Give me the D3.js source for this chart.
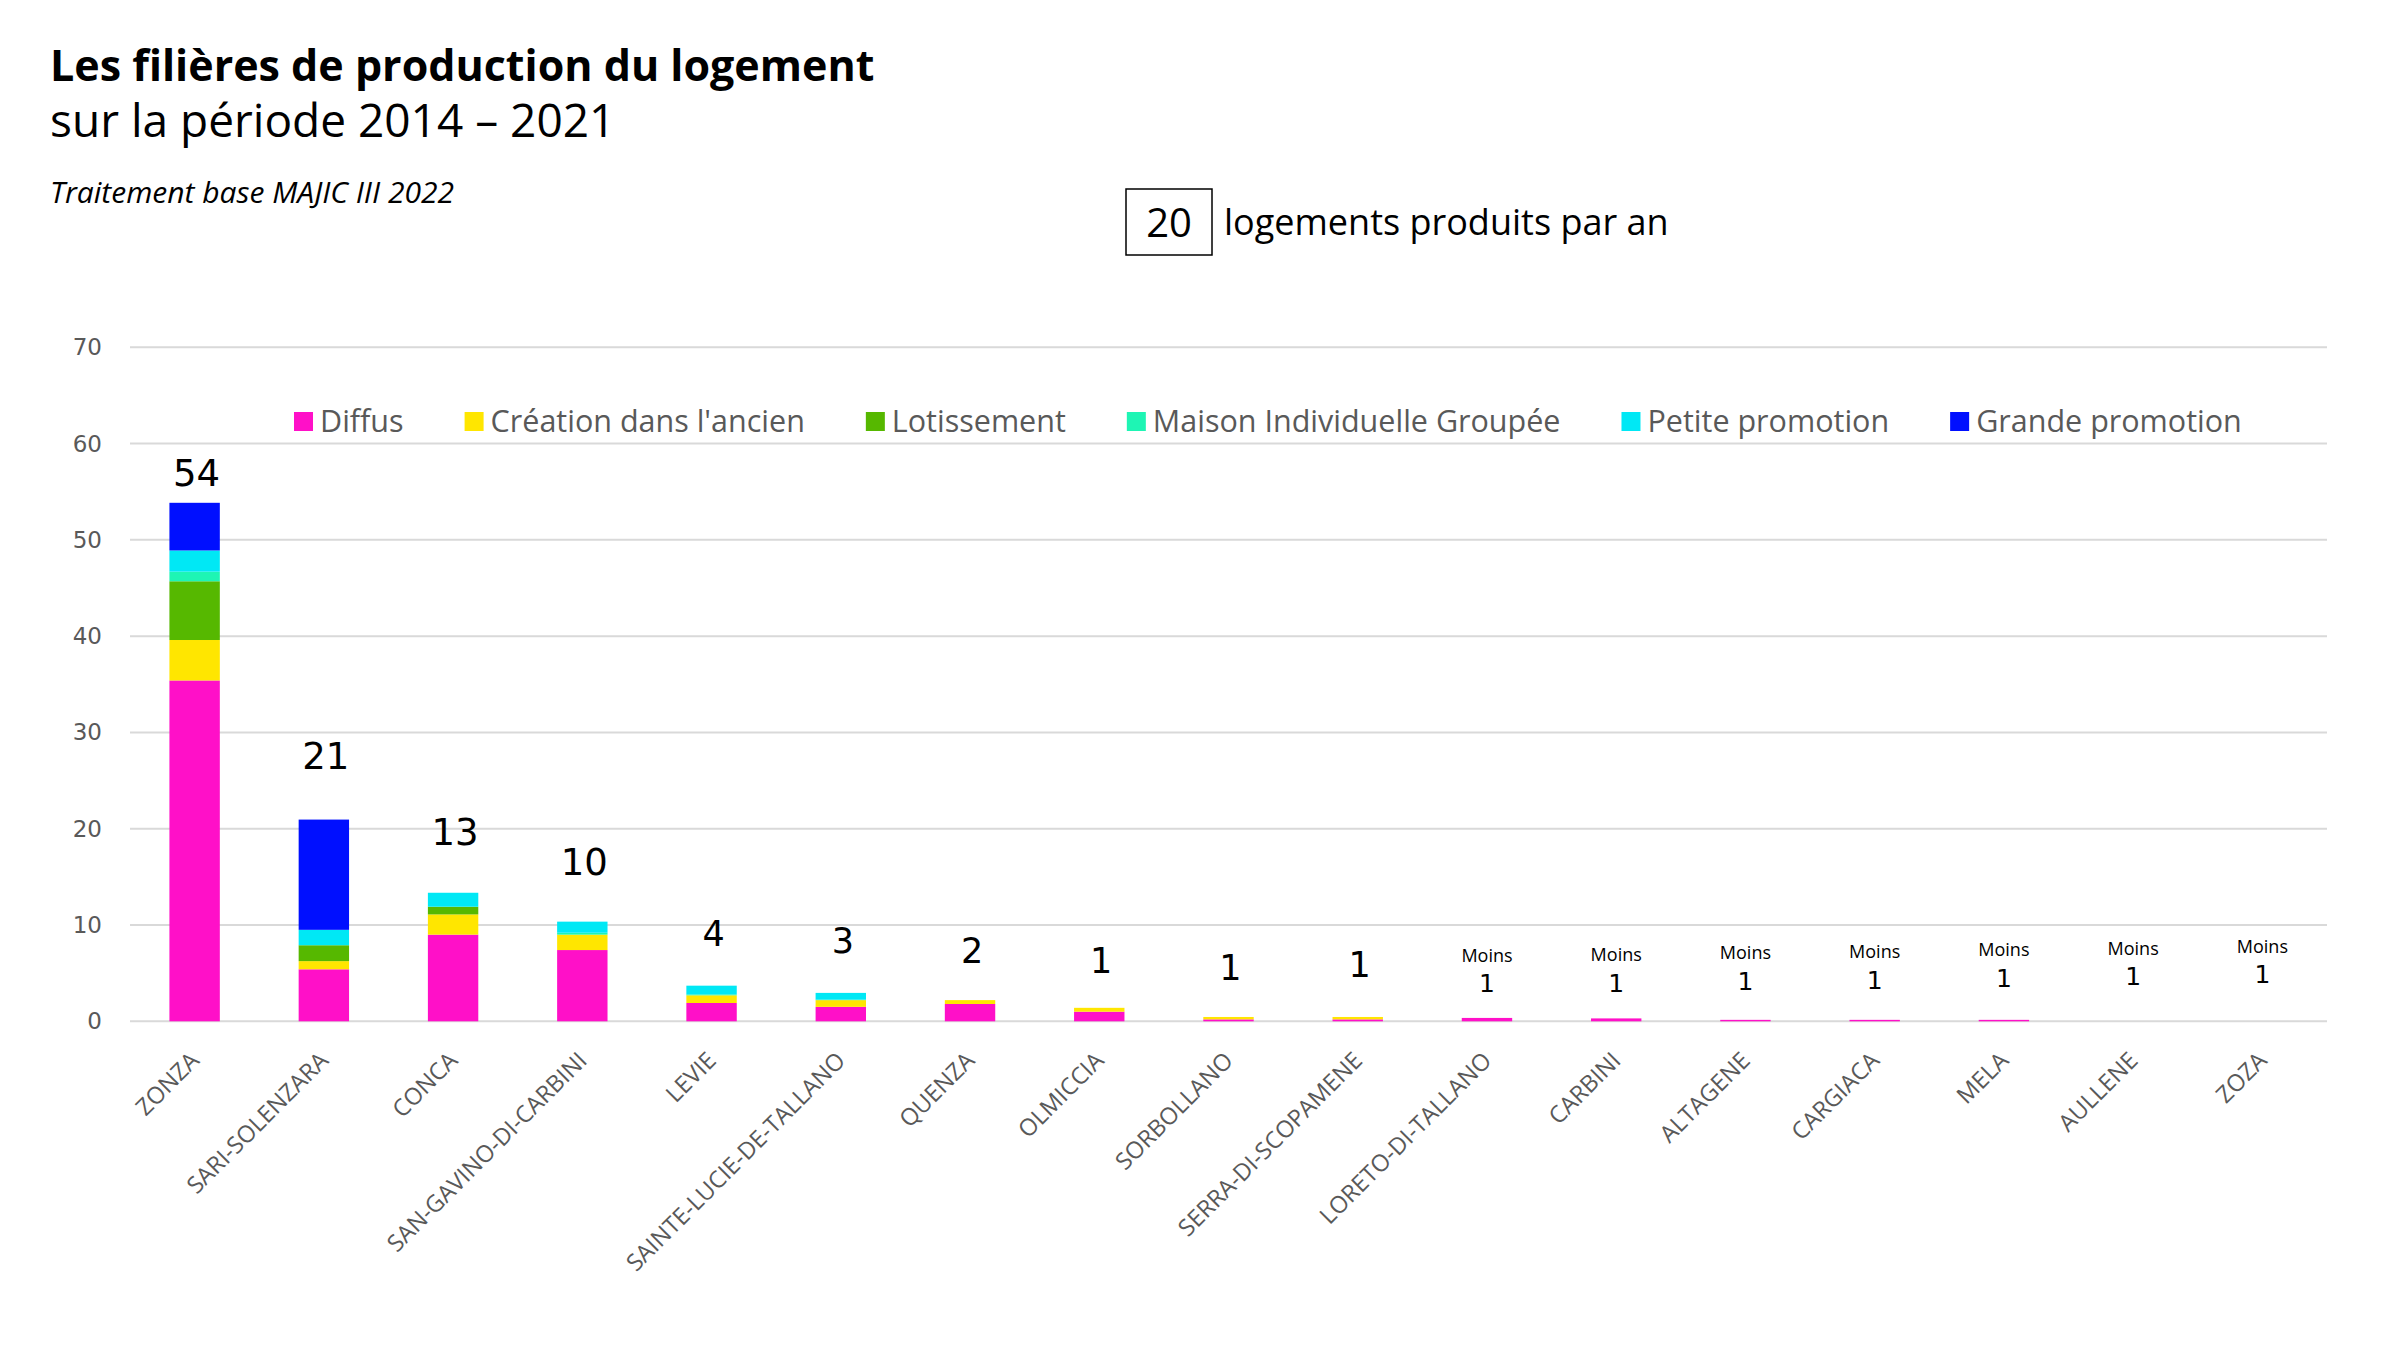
<!DOCTYPE html>
<html>
<head>
<meta charset="utf-8">
<script src="https://cdn.jsdelivr.net/npm/d3@7"></script>
<style>
  body { margin: 0; background: #fff; }
  text { font-family: "Open Sans", sans-serif; }
</style>
</head>
<body>
<script>
// communes (ordre du graphique)
const communes = ["ZONZA", "SARI-SOLENZARA", "CONCA", "SAN-GAVINO-DI-CARBINI", "LEVIE",
  "SAINTE-LUCIE-DE-TALLANO", "QUENZA", "OLMICCIA", "SORBOLLANO", "SERRA-DI-SCOPAMENE",
  "LORETO-DI-TALLANO", "CARBINI", "ALTAGENE", "CARGIACA", "MELA", "AULLENE", "ZOZA"];

// logements produits par an, par filière
const diffus      = [35.4, 5.4, 9.0, 7.4, 1.9, 1.5, 1.8, 1.0, 0.2, 0.2, 0.35, 0.3, 0.15, 0.15, 0.15, 0, 0];
const creation    = [4.2, 0.85, 2.1, 1.6, 0.8, 0.7, 0.4, 0.4, 0.25, 0.25, 0, 0, 0, 0, 0, 0, 0];
const lotissement = [6.1, 1.65, 0.8, 0, 0, 0, 0, 0, 0, 0, 0, 0, 0, 0, 0, 0, 0];
const mig         = [1.0, 0, 0, 0.2, 0.1, 0.05, 0, 0, 0, 0, 0, 0, 0, 0, 0, 0, 0];
const petite      = [2.2, 1.6, 1.45, 1.15, 0.9, 0.7, 0, 0, 0, 0, 0, 0, 0, 0, 0, 0, 0];
const grande      = [4.95, 11.45, 0, 0, 0, 0, 0, 0, 0, 0, 0, 0, 0, 0, 0, 0, 0];

const seriesNames = ["Diffus", "Création dans l'ancien", "Lotissement",
  "Maison Individuelle Groupée", "Petite promotion", "Grande promotion"];
const seriesColors = ["#ff10c8", "#ffe600", "#56b800", "#1ef5b4", "#00e8f5", "#000fff"];

// étiquettes de total et leur hauteur (en unités de l'axe)
const labelText   = ["54", "21", "13", "10", "4", "3", "2", "1", "1", "1", "1", "1", "1", "1", "1", "1", "1"];
const labelPrefix = ["", "", "", "", "", "", "", "", "", "", "Moins", "Moins", "Moins", "Moins", "Moins", "Moins", "Moins"];
const labelLevel  = [57.0, 27.6, 19.7, 16.6, 9.1, 8.4, 7.4, 6.3, 5.6, 5.9, 3.95, 4.0, 4.2, 4.3, 4.5, 4.7, 4.9];

const yTicks = [0, 10, 20, 30, 40, 50, 60, 70];

const W = 2400, H = 1350;
const svg = d3.select("body").append("svg").attr("width", W).attr("height", H);
svg.append("rect").attr("width", W).attr("height", H).attr("fill", "#fff");

const x = d3.scaleBand().domain(communes).range([130, 2327]).paddingInner(0.61).paddingOuter(0.305);
const y = d3.scaleLinear().domain([0, 70]).range([1021.3, 347.3]);

// titre
svg.append("text").attr("x", 50).attr("y", 81)
  .attr("font-size", 43).attr("font-weight", "bold").attr("fill", "#000")
  .text("Les filières de production du logement");
svg.append("text").attr("x", 50).attr("y", 137)
  .attr("font-size", 46).attr("fill", "#000")
  .text("sur la période 2014 – 2021");
svg.append("text").attr("x", 50).attr("y", 203)
  .attr("font-size", 30).attr("font-style", "italic").attr("fill", "#000")
  .text("Traitement base MAJIC III 2022");

svg.append("rect").attr("x", 1126).attr("y", 189).attr("width", 86).attr("height", 66)
  .attr("fill", "none").attr("stroke", "#000").attr("stroke-width", 1.5);
svg.append("text").attr("x", 1169).attr("y", 237).attr("text-anchor", "middle")
  .attr("font-size", 40).attr("fill", "#000").text("20");
svg.append("text").attr("x", 1224).attr("y", 235)
  .attr("font-size", 36).attr("fill", "#000").text("logements produits par an");

// grille
svg.append("g")
  .selectAll("line")
  .data(yTicks)
  .enter()
  .append("line")
  .attr("x1", 130).attr("x2", 2327)
  .attr("y1", (d) => y(d)).attr("y2", (d) => y(d))
  .attr("stroke", "#d9d9d9").attr("stroke-width", 2);

svg.append("g")
  .selectAll("text")
  .data(yTicks)
  .enter()
  .append("text")
  .attr("x", 102).attr("y", (d) => y(d)).attr("dy", "0.35em")
  .attr("text-anchor", "end")
  .style("font-family", "'DejaVu Sans', sans-serif")
  .attr("font-size", 23).attr("fill", "#595959")
  .text((d) => d);

// barres empilées
const table = communes.map((c, i) => ({
  commune: c, s0: diffus[i], s1: creation[i], s2: lotissement[i],
  s3: mig[i], s4: petite[i], s5: grande[i]
}));
const stack = d3.stack().keys(["s0", "s1", "s2", "s3", "s4", "s5"])(table);

svg.append("g")
  .selectAll("g")
  .data(stack)
  .enter()
  .append("g")
  .attr("fill", (d, i) => seriesColors[i])
  .selectAll("rect")
  .data((d) => d)
  .enter()
  .append("rect")
  .attr("x", (d) => x(d.data.commune))
  .attr("width", x.bandwidth())
  .attr("y", (d) => y(d[1]))
  .attr("height", (d) => y(d[0]) - y(d[1]));

// étiquettes de total
const lab = svg.append("g")
  .selectAll("text")
  .data(communes)
  .enter()
  .append("text")
  .attr("text-anchor", "middle")
  .attr("fill", "#000");

lab.filter((d, i) => labelPrefix[i] === "")
  .attr("x", (d) => x(d) + x.bandwidth() / 2 + 2)
  .attr("y", (d, i) => y(labelLevel[i]))
  .attr("dy", "0.36em")
  .style("font-family", "'DejaVu Sans', sans-serif")
  .attr("font-size", (d, i) => (i < 4 ? 37 : 35))
  .text((d, i) => labelText[i]);

const moins = lab.filter((d, i) => labelPrefix[i] !== "");
moins.append("tspan")
  .attr("x", (d) => x(d) + x.bandwidth() / 2)
  .attr("y", (d) => y(labelLevel[communes.indexOf(d)]) - 28)
  .attr("dy", "0.36em")
  .attr("font-size", 18)
  .text((d) => labelPrefix[communes.indexOf(d)]);
moins.append("tspan")
  .attr("x", (d) => x(d) + x.bandwidth() / 2)
  .attr("y", (d) => y(labelLevel[communes.indexOf(d)]))
  .attr("dy", "0.36em")
  .style("font-family", "'DejaVu Sans', sans-serif")
  .attr("font-size", 25)
  .text((d) => labelText[communes.indexOf(d)]);

// libellés de l'axe X
svg.append("g")
  .selectAll("text")
  .data(communes)
  .enter()
  .append("text")
  .attr("transform", (d) => `translate(${x(d) + x.bandwidth() / 2 + 6},1062) rotate(-45)`)
  .attr("text-anchor", "end")
  .attr("font-size", 23.5)
  .attr("fill", "#595959")
  .text((d) => d);

// légende
const legend = svg.append("g");
let lx = 294;
seriesNames.forEach((name, i) => {
  legend.append("rect")
    .attr("x", lx).attr("y", 412).attr("width", 19).attr("height", 19)
    .attr("fill", seriesColors[i]);
  const t = legend.append("text")
    .attr("x", lx + 26).attr("y", 432)
    .attr("font-size", 30.5).attr("fill", "#595959")
    .text(name);
  lx += 26 + t.node().getComputedTextLength() + 61;
});
</script>
</body>
</html>
